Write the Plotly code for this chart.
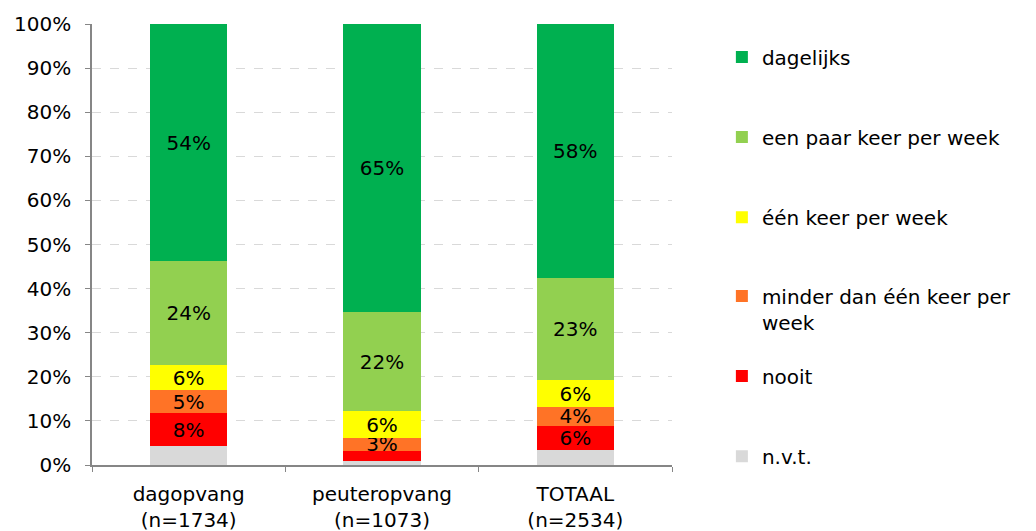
import plotly.graph_objects as go

categories = ["dagopvang<br>(n=1734)", "peuteropvang<br>(n=1073)", "TOTAAL<br>(n=2534)"]

# percentages per answer, bottom of the stack first
nvt = [4.2, 1.0, 3.3]
nooit = [7.6, 2.2, 5.6]
minder = [5.1, 2.9, 4.3]
een_keer = [5.7, 6.1, 6.0]
paar_keer = [23.6, 22.4, 23.1]
dagelijks = [53.8, 65.4, 57.7]

series = [
    ("n.v.t.", nvt, "#D9D9D9", False),
    ("nooit", nooit, "#FF0000", True),
    ("minder dan één keer per<br>week", minder, "#FF7326", True),
    ("één keer per week", een_keer, "#FFFF00", True),
    ("een paar keer per week", paar_keer, "#92D050", True),
    ("dagelijks", dagelijks, "#00B050", True),
]

# legend slots (paper y) from top to bottom
legend_y = {
    "dagelijks": 0.925,
    "een paar keer per week": 0.744,
    "één keer per week": 0.562,
    "minder dan één keer per<br>week": 0.354,
    "nooit": 0.202,
    "n.v.t.": 0.020,
}

FONT = "DejaVu Sans"
SIZE = 20
fig = go.Figure()
legend_layout = {}
for i, (name, vals, color, labelled) in enumerate(series):
    lname = "legend" if i == 0 else f"legend{i + 1}"
    if labelled:
        text = [f"{v:.0f}%" if v >= 2.5 else "" for v in vals]
    else:
        text = ["" for v in vals]
    fig.add_trace(go.Bar(
        x=categories,
        y=vals,
        name=name,
        marker=dict(color=color, line_width=0),
        text=text,
        textposition="inside",
        insidetextanchor="middle",
        textangle=0,
        constraintext="none",
        textfont=dict(color="black", size=SIZE, family=FONT),
        legend=lname,
        showlegend=True,
        hoverinfo="skip",
    ))
    legend_layout[lname] = dict(
        x=1.086, y=legend_y[name], xanchor="left", yanchor="middle",
        valign="top",
        font=dict(size=SIZE, family=FONT, color="black"),
        bgcolor="rgba(0,0,0,0)",
    )

fig.update_layout(
    barmode="stack",
    bargap=0.6,
    width=1036,
    height=531,
    margin=dict(l=92, r=364, t=24, b=66),
    plot_bgcolor="white",
    paper_bgcolor="white",
    showlegend=True,
    font=dict(family=FONT, size=SIZE, color="black"),
    **legend_layout,
)
fig.update_yaxes(
    range=[0, 100],
    dtick=10,
    ticksuffix="%",
    ticks="outside",
    ticklen=5,
    tickcolor="#868686",
    showline=True,
    linecolor="#868686",
    linewidth=1.5,
    showgrid=True,
    gridcolor="#D9D9D9",
    griddash="dash",
    zeroline=False,
    ticklabelstandoff=10,
    automargin=False,
)
fig.update_xaxes(
    ticks="outside",
    tickson="boundaries",
    ticklen=5,
    tickcolor="#868686",
    showline=True,
    linecolor="#868686",
    linewidth=1.5,
    ticklabelstandoff=10,
    automargin=False,
)

# drop the default page margin so the figure sits at the window's corner
fig.write_html(
    "out.html",
    config={"displayModeBar": False},
    post_script="document.body.style.margin='0';",
)
